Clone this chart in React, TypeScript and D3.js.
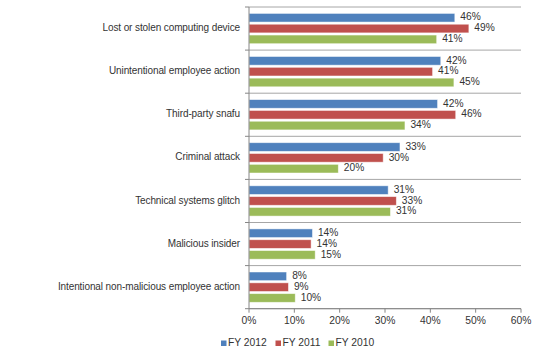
import React from "react";
import * as d3 from "d3";

const categories = [
  "Lost or stolen computing device",
  "Unintentional employee action",
  "Third-party snafu",
  "Criminal attack",
  "Technical systems glitch",
  "Malicious insider",
  "Intentional non-malicious employee action",
];
const seriesNames = ["FY 2012", "FY 2011", "FY 2010"];
const fy2012 = [45.4, 42.3, 41.6, 33.3, 30.7, 14.0, 8.3];
const fy2011 = [48.5, 40.5, 45.6, 29.6, 32.5, 13.7, 8.7];
const fy2010 = [41.4, 45.2, 34.4, 19.7, 31.2, 14.6, 10.2];
const labels2012 = ["46%", "42%", "42%", "33%", "31%", "14%", "8%"];
const labels2011 = ["49%", "41%", "46%", "30%", "33%", "14%", "9%"];
const labels2010 = ["41%", "45%", "34%", "20%", "31%", "15%", "10%"];
const xTicks = [0, 10, 20, 30, 40, 50, 60];
const colors = ["#4F81BD", "#C0504D", "#9BBB59"];

export default function App() {
  const W = 550, H = 356;
  const x0 = 249, x1 = 521, yTop = 7, yBot = 308.7;
  const x = d3.scaleLinear().domain([0, 60]).range([x0, x1]);
  const y = d3.scaleBand<string>().domain(categories).range([yTop, yBot]).padding(0);
  const bw = y.bandwidth();
  const inner = d3.scaleBand<string>().domain(seriesNames).range([6.4, bw - 6.4]).paddingInner(0.2);
  const values = [fy2012, fy2011, fy2010];
  const labs = [labels2012, labels2011, labels2010];
  const font = "'Liberation Sans', Arial, sans-serif";
  const textColor = "#333";
  const legendX = [221, 275.5, 328.5];
  return (
    <svg width={W} height={H} style={{ position: "absolute", left: 0, top: 0, background: "#fff" }} fontFamily={font}>
      {[...categories.map((c) => y(c)!), yBot].map((yy, i) => (
        <g key={"g" + i}>
          <line x1={x0} x2={x1} y1={yy} y2={yy} stroke="#a6a6a6" strokeWidth={1} />
          <line x1={x0 - 4} x2={x0} y1={yy} y2={yy} stroke="#868686" strokeWidth={1} />
        </g>
      ))}
      <line x1={x0} x2={x1} y1={yBot} y2={yBot} stroke="#868686" strokeWidth={1} />
      {xTicks.map((t) => (
        <g key={"t" + t}>
          <line x1={x(t)} x2={x(t)} y1={yBot} y2={yBot + 4} stroke="#868686" strokeWidth={1} />
          <text x={x(t)} y={yBot + 13} textAnchor="middle" dominantBaseline="middle" fontSize={10.3} fill={textColor}>
            {t + "%"}
          </text>
        </g>
      ))}
      {categories.map((c, ci) => (
        <g key={c}>
          <text x={240} y={y(c)! + bw / 2} textAnchor="end" dominantBaseline="middle" fontSize={10} letterSpacing={-0.1} fill={textColor}>
            {c}
          </text>
          {seriesNames.map((s, si) => {
            const v = values[si][ci];
            const by = y(c)! + inner(s)!;
            return (
              <g key={s}>
                <rect x={x0} y={by} width={x(v) - x0} height={inner.bandwidth()} fill={colors[si]} stroke="#ffffff" strokeOpacity={0.6} strokeWidth={0.8} />
                <text x={x(v) + 5.5} y={by + inner.bandwidth() / 2} dominantBaseline="middle" fontSize={10.2} fill={textColor}>
                  {labs[si][ci]}
                </text>
              </g>
            );
          })}
        </g>
      ))}
      <line x1={x0} x2={x0} y1={yTop} y2={yBot} stroke="#868686" strokeWidth={1} />
      {seriesNames.map((s, i) => (
        <g key={"l" + s}>
          <rect x={legendX[i]} y={340.5} width={5.5} height={5.5} fill={colors[i]} />
          <text x={legendX[i] + 7} y={343.5} dominantBaseline="middle" fontSize={10.3} fill={textColor}>
            {s}
          </text>
        </g>
      ))}
    </svg>
  );
}
